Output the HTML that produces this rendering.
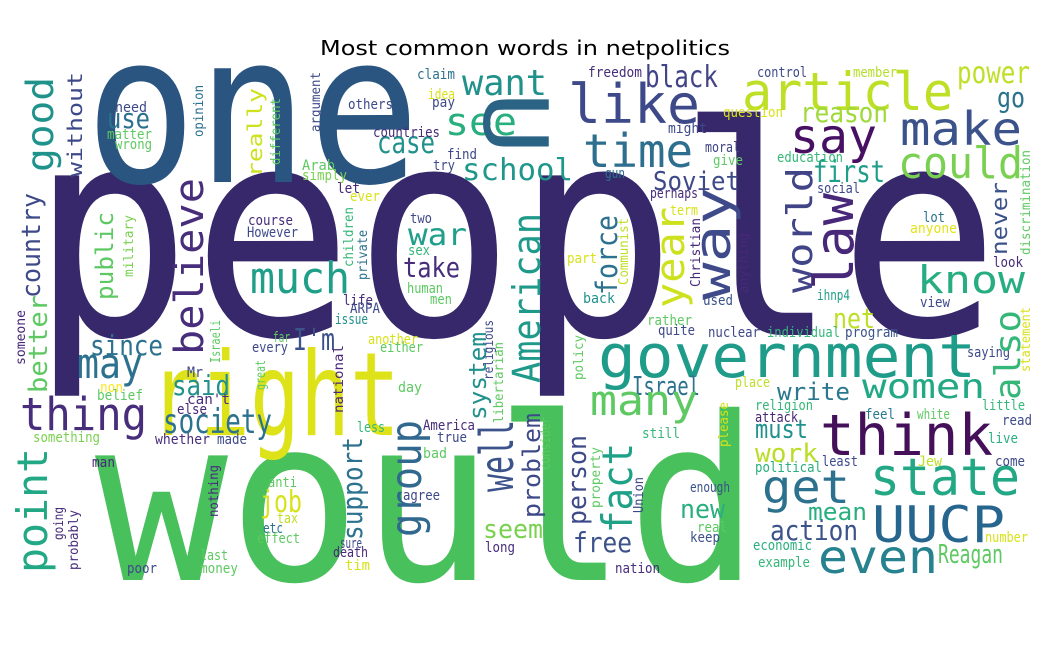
<!DOCTYPE html>
<html>
<head>
<meta charset="utf-8">
<style>
  html,body{margin:0;padding:0;background:#fff;}
  body{width:1050px;height:648px;overflow:hidden;}
  svg text{font-family:"DejaVu Sans Mono","Liberation Mono",monospace;}
</style>
</head>
<body>
<svg id="cloud" width="1050" height="648" viewBox="0 0 1050 648" xmlns="http://www.w3.org/2000/svg">
  <rect x="0" y="0" width="1050" height="648" fill="#ffffff"/>
  <text x="525" y="55" text-anchor="middle" font-size="20" fill="#000" style="font-family:'DejaVu Sans','Liberation Sans',sans-serif" textLength="410" lengthAdjust="spacingAndGlyphs">Most common words in netpolitics</text>
  <g id="words"></g>
</svg>
<script>
// word | x | y | font size | length | color | rotation
const words = [
"people|30|335|292|970|#36286b|0",
"would|95|580|228|665|#48c05c|0",
"one|85|182|208|335|#2a5580|0",
"right|150|435|116|250|#dde318|0",
"government|598|377|60|378|#1f9b8a|0",
"think|820|455|57|173|#45105a|0",
"state|870|495|52|150|#22a884|0",
"UUCP|872|542|50|133|#26668e|0",
"even|818|573|46|120|#26828e|0",
"get|762|503|46|88|#2c728e|0",
"Reagan|938|563|26|65|#5ec962|0",
"action|770|540|28|88|#3b528b|0",
"mean|808|520|24|59|#29af7f|0",
"women|862|398|34|123|#22a884|0",
"write|777|400|24|73|#2a788e|0",
"must|755|438|26|53|#21918c|0",
"work|755|462|26|63|#bade28|0",
"new|680|518|26|45|#29af7f|0",
"net|833|328|28|42|#bddf26|0",
"article|742|110|53|211|#bddf26|0",
"make|900|145|46|122|#3b528b|0",
"say|790|153|48|87|#471063|0",
"could|898|178|44|125|#7ad151|0",
"power|957|83|30|73|#bddf26|0",
"go|997|107|28|28|#2c728e|0",
"reason|800|122|28|88|#9fda3a|0",
"first|813|182|30|72|#1f9e89|0",
"know|917|293|38|108|#27ad81|0",
"want|462|95|36|85|#21918c|0",
"see|445|135|38|72|#29af7f|0",
"school|462|180|30|111|#1f988b|0",
"like|568|123|54|132|#3e4989|0",
"time|583|167|46|110|#2e6e8e|0",
"black|645|87|30|73|#414487|0",
"Soviet|653|190|26|87|#3e4989|0",
"Israel|632|395|26|68|#2c728e|0",
"free|573|552|28|59|#3b528b|0",
"seem|483|538|26|60|#7ad151|0",
"many|590|415|42|108|#5ec962|0",
"war|408|245|30|59|#1f9e89|0",
"take|403|277|28|57|#472d7b|0",
"since|90|355|28|73|#2c728e|0",
"I'm|293|350|30|42|#3b528b|0",
"may|77|378|42|66|#2c728e|0",
"said|172|395|28|58|#21918c|0",
"thing|20|430|45|127|#472d7b|0",
"society|163|433|34|109|#2c728e|0",
"job|260|512|30|42|#d8e219|0",
"much|250|293|44|100|#1f9e89|0",
"use|107|128|28|43|#2c728e|0",
"case|377|153|30|58|#21918c|0",
"control|757|77|14|50|#3e4989|0",
"member|853|77|14|44|#b5de2b|0",
"question|723|117|14|60|#d8e219|0",
"education|777|162|14|66|#35b779|0",
"moral|705|152|14|35|#414487|0",
"give|713|165|14|30|#5ec962|0",
"social|817|193|14|43|#3e4989|0",
"lot|923|222|14|22|#2c728e|0",
"anyone|910|233|14|47|#e3e418|0",
"look|993|267|14|30|#472d7b|0",
"ihnp4|817|300|14|33|#1f9e89|0",
"view|920|307|14|30|#3e4989|0",
"used|703|305|14|30|#3b528b|0",
"nuclear|708|337|14|52|#3e4989|0",
"individual|767|337|14|73|#35b779|0",
"program|845|337|14|53|#3b528b|0",
"saying|967|357|14|43|#3e4989|0",
"place|735|387|14|35|#bddf26|0",
"religion|755|410|14|58|#35b779|0",
"attack|755|422|14|43|#482878|0",
"feel|865|419|14|30|#2a788e|0",
"white|917|419|14|33|#5ec962|0",
"little|982|410|14|43|#35b779|0",
"read|1002|425|14|30|#3e4989|0",
"live|988|443|14|30|#29af7f|0",
"least|822|466|14|36|#3e4989|0",
"Jew|918|466|14|24|#bddf26|0",
"come|995|466|14|30|#3e4989|0",
"political|755|472|14|67|#29af7f|0",
"enough|690|492|14|40|#3b528b|0",
"real|697|532|14|30|#5ec962|0",
"keep|690|542|14|30|#3b528b|0",
"economic|753|550|14|59|#29af7f|0",
"example|758|567|14|52|#35b779|0",
"number|985|542|14|43|#d8e219|0",
"two|410|223|14|22|#3e4989|0",
"sex|408|255|14|22|#35b779|0",
"human|407|293|14|36|#5ec962|0",
"men|430|304|14|22|#5ec962|0",
"let|337|193|14|23|#482878|0",
"ever|350|201|14|30|#d8e219|0",
"life|343|305|14|30|#472d7b|0",
"ARPA|350|313|14|30|#3e4989|0",
"issue|335|324|14|33|#21918c|0",
"another|368|344|14|50|#d8e219|0",
"either|380|352|14|43|#5ec962|0",
"day|398|392|14|24|#5ec962|0",
"less|357|432|14|28|#35b779|0",
"America|423|430|14|52|#472d7b|0",
"true|437|442|14|30|#3e4989|0",
"bad|423|458|14|24|#5ec962|0",
"agree|403|500|14|37|#3e4989|0",
"long|485|552|14|30|#472d7b|0",
"sure|340|548|14|22|#3e4989|0",
"death|333|557|14|35|#482878|0",
"tim|345|570|14|25|#d8e219|0",
"nation|615|573|14|45|#472d7b|0",
"still|642|438|14|38|#35b779|0",
"rather|647|325|14|45|#5ec962|0",
"quite|658|335|14|37|#3e4989|0",
"back|583|303|14|32|#21918c|0",
"part|567|263|14|30|#d8e219|0",
"perhaps|650|198|14|48|#472d7b|0",
"term|670|215|14|28|#d8e219|0",
"freedom|588|77|14|54|#472d7b|0",
"find|447|159|14|30|#3e4989|0",
"gun|605|178|14|20|#2c728e|0",
"might|668|133|14|39|#3e4989|0",
"claim|417|79|14|38|#2c728e|0",
"idea|428|99|14|27|#d8e219|0",
"pay|432|107|14|23|#3e4989|0",
"others|348|109|14|45|#3e4989|0",
"countries|373|137|14|67|#472d7b|0",
"try|433|170|14|22|#3e4989|0",
"Arab|302|170|14|33|#5ec962|0",
"simply|302|180|14|45|#7ad151|0",
"need|115|112|14|32|#3e4989|0",
"matter|107|139|14|45|#5ec962|0",
"wrong|115|149|14|37|#5ec962|0",
"course|248|225|14|45|#472d7b|0",
"However|247|237|14|51|#3e4989|0",
"every|252|352|14|36|#3e4989|0",
"far|273|342|14|17|#5ec962|0",
"something|33|442|14|67|#7ad151|0",
"whether|155|444|14|55|#472d7b|0",
"made|217|444|14|30|#3e4989|0",
"Mr|187|377|14|16|#3e4989|0",
"non|100|392|14|23|#fde725|0",
"belief|97|400|14|46|#5ec962|0",
"can't|187|404|14|43|#472d7b|0",
"else|177|414|14|30|#482878|0",
"man|92|467|14|23|#482878|0",
"anti|268|487|14|29|#5ec962|0",
"tax|277|523|14|21|#bddf26|0",
"etc|263|533|14|20|#2c728e|0",
"effect|257|543|14|43|#5ec962|0",
"last|200|560|14|28|#5ec962|0",
"money|200|573|14|38|#5ec962|0",
"poor|127|573|14|30|#3e4989|0",
"way|730|300|50|113|#3e4a89|-90",
"world|812|293|36|126|#414487|-90",
"law|853|290|54|97|#482878|-90",
"never|1007|255|22|73|#3b528b|-90",
"also|1020|400|36|90|#35b779|-90",
"discrimination|1030|255|13|105|#5ec962|-90",
"anything|748|293|13|60|#482878|-90",
"statement|1030|372|13|65|#d8e219|-90",
"please|728|447|13|45|#d8e219|-90",
"American|540|383|38|170|#1f9a8a|-90",
"force|617|295|29|80|#2c728e|-90",
"Communist|628|285|13|67|#bddf26|-90",
"Christian|700|287|13|69|#482878|-90",
"year|684|308|40|101|#cde11d|-90",
"system|486|420|24|88|#21918c|-90",
"religious|493|380|13|60|#3e4989|-90",
"libertarian|503|423|13|81|#5ec962|-90",
"well|513|492|46|72|#3b528b|-90",
"problem|540|518|24|105|#3e4989|-90",
"consider|550|470|13|53|#5ec962|-90",
"person|586|525|26|90|#3e4989|-90",
"property|600|508|13|61|#5ec962|-90",
"Union|643|513|13|36|#3e4989|-90",
"policy|583|380|13|45|#5ec962|-90",
"fact|632|533|42|90|#1fa187|-90",
"group|421|537|43|117|#31688e|-90",
"support|362|540|28|103|#2c728e|-90",
"national|343|413|13|68|#482878|-90",
"point|47|573|42|125|#22a884|-90",
"better|47|393|26|98|#5ec962|-90",
"going|63|540|13|33|#472d7b|-90",
"probably|78|570|13|60|#472d7b|-90",
"nothing|218|517|13|52|#472d7b|-90",
"someone|25|365|13|55|#482878|-90",
"Israeli|220|363|13|43|#5ec962|-90",
"great|265|390|13|30|#5ec962|-90",
"good|53|172|37|95|#20928c|-90",
"without|82|177|20|105|#3e4989|-90",
"really|262|177|20|89|#cde11d|-90",
"different|280|165|13|67|#5ec962|-90",
"opinion|203|137|13|52|#2c728e|-90",
"argument|320|132|13|60|#3e4989|-90",
"country|40|298|26|105|#3e4989|-90",
"public|113|300|24|88|#5ec962|-90",
"military|133|277|13|62|#7ad151|-90",
"children|353|267|13|60|#35b779|-90",
"private|367|280|13|50|#2c728e|-90",
"believe|203|355|40|177|#472d7b|-90",
"U|484|92|88|62|#2a6384|90"
];

const layer = document.getElementById('words');
const NS = 'http://www.w3.org/2000/svg';
for (const entry of words) {
  const p = entry.split('|');
  const x = +p[1], y = +p[2], size = +p[3], len = +p[4], rot = +p[6];
  const t = document.createElementNS(NS, 'text');
  
  
  t.setAttribute('x', x);
  t.setAttribute('y', y);
  t.setAttribute('font-size', size);
  t.setAttribute('fill', p[5]);
  t.setAttribute('textLength', len);
  t.setAttribute('lengthAdjust', 'spacingAndGlyphs');
  if (rot !== 0) t.setAttribute('transform', 'rotate(' + rot + ' ' + x + ' ' + y + ')');
  t.textContent = p[0];
  layer.appendChild(t);
}
</script>
</body>
</html>
